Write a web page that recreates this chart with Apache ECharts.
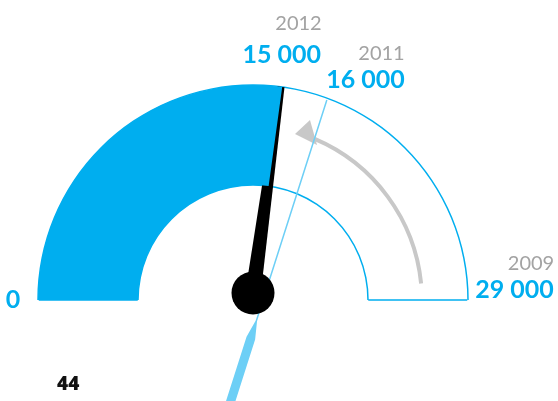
<!DOCTYPE html>
<html>
<head>
    <meta charset="utf-8">
    <title>Gauge</title>
    <style>
        html, body { margin: 0; padding: 0; background: #fff; }
    </style>
</head>
<body>
<div id="main" style="width: 558px;height:401px;"></div>
<script src="https://cdn.jsdelivr.net/npm/echarts@6/dist/echarts.min.js"></script>
<script type="text/javascript">
    // values
    var years = ['2009', '2011', '2012'];
    var yearValues = [29000, 16000, 15000];
    var axisMin = 0;
    var axisMax = 29000;
    var pageNumber = '44';

    var BLUE = '#00AEEF';
    var LIGHT = '#6DCFF6';
    var GREY_TXT = '#A3A3A3';
    var FONT = 'Lato, "Open Sans", sans-serif';

    function fmt(v) {
        return String(v).replace(/\B(?=(\d{3})+(?!\d))/g, ' ');
    }

    // common bits for the gauge layers
    function bare(extra) {
        var s = {
            type: 'gauge',
            min: axisMin,
            max: axisMax,
            startAngle: 180,
            endAngle: 0,
            splitNumber: 1,
            axisLine: { show: false },
            splitLine: { show: false },
            axisTick: { show: false },
            axisLabel: { show: false },
            pointer: { show: false },
            anchor: { show: false },
            title: { show: false },
            detail: { show: false },
            data: []
        };
        for (var k in extra) s[k] = extra[k];
        return s;
    }

    var valueStyle = { color: BLUE, fontSize: 25, fontWeight: 'bold', fontFamily: FONT, width: 120 };
    var yearStyle = { color: GREY_TXT, fontSize: 20, fontFamily: FONT };

    var myChart = echarts.init(document.getElementById('main'));

    myChart.setOption({
        animation: false,
        title: {
            text: pageNumber,
            left: 57,
            top: 375,
            padding: 0,
            textStyle: { color: '#111', fontSize: 19, fontWeight: 900, fontFamily: '"Open Sans", Lato, sans-serif' }
        },
        graphic: [
            // grey arrow 2009 -> 2011
            {
                type: 'arc',
                shape: { cx: 246, cy: 301, r: 176, startAngle: -0.1, endAngle: -1.17, clockwise: false },
                style: { stroke: '#C8C8C8', lineWidth: 4, fill: null }
            },
            {
                type: 'polygon',
                shape: { points: [[295, 134], [310, 120], [317, 145]] },
                style: { fill: '#C8C8C8' }
            }
        ],
        series: [
            // outer outline + end segment, 2009 value label
            bare({
                center: [253, 300],
                radius: 215.75,
                axisLine: { show: true, lineStyle: { width: 1.5, color: [[1, BLUE]] } },
                splitLine: { show: true, length: 99, distance: 0, lineStyle: { width: 1.5, color: BLUE } },
                axisLabel: {
                    show: true, distance: -130.5,
                    rich: {
                        v: { color: BLUE, fontSize: 25, fontWeight: 'bold', fontFamily: FONT }
                    },
                    formatter: function (v) { return v === axisMin ? '{v|' + fmt(v) + '}' : ''; }
                },
                title: { show: true, offsetCenter: [278, -36], ...yearStyle },
                detail: { show: true, offsetCenter: [261.5, -10], formatter: fmt, ...valueStyle },
                data: [{ value: yearValues[0], name: years[0] }]
            }),
            // inner outline
            bare({
                center: [253, 300],
                radius: 115.75,
                axisLine: { show: true, lineStyle: { width: 1.5, color: [[1, BLUE]] } }
            }),
            // filled band up to 2012 value
            bare({
                center: [253, 300],
                radius: 215,
                endAngle: -9.1,
                progress: { show: true, width: 100, itemStyle: { color: BLUE } },
                data: [{ value: yearValues[2], name: years[2] }]
            }),
            // 2011 needle (light)
            bare({
                center: [263, 300],
                radius: 215,
                endAngle: -15.2,
                pointer: {
                    show: true,
                    icon: 'path://M3.75 0L5.25 0L5.25 232L9 250L9 340L0 340L0 250L3.75 232Z',
                    length: 340,
                    width: 9,
                    offsetCenter: [0, 130],
                    itemStyle: { color: LIGHT }
                },
                title: { show: true, offsetCenter: [118.5, -246], ...yearStyle },
                detail: { show: true, offsetCenter: [102.5, -220], formatter: fmt, ...valueStyle },
                data: [{ value: yearValues[1], name: years[1] }]
            }),
            // 2012 needle (black)
            bare({
                center: [253, 293],
                radius: 215,
                endAngle: -9.1,
                pointer: {
                    show: true,
                    icon: 'path://M4 0L11 0L15.5 208L0 208Z',
                    length: 208,
                    width: 15.5,
                    itemStyle: { color: '#000' }
                },
                anchor: { show: true, showAbove: true, size: 43, itemStyle: { color: '#000' } },
                title: { show: true, offsetCenter: [45.5, -269], ...yearStyle },
                detail: { show: true, offsetCenter: [28.7, -238], formatter: fmt, ...valueStyle },
                data: [{ value: yearValues[2], name: years[2] }]
            })
        ]
    });
</script>
</body>
</html>
